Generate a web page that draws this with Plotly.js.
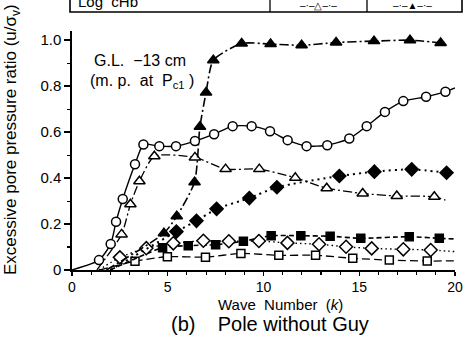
<!DOCTYPE html>
<html>
<head>
<meta charset="utf-8">
<script src="https://cdn.plot.ly/plotly-3.0.1.min.js"></script>
<style>html,body{margin:0;padding:0;background:#fff;}#chart{width:466px;height:337px;}</style>
</head>
<body>
<div id="chart"></div>
<script>
// Wave number (k) and excessive pore pressure ratio (u/σv) per series
// (first / last entries of some arrays are unmarked line ends)
const kCircle = [0, 1.41, 2.02, 2.3, 2.65, 3.29, 3.73, 4.56, 5.43, 6.42, 7.42, 8.39, 9.38, 10.34, 11.26, 12.25, 13.33, 14.48, 15.39, 16.34, 17.3, 18.49, 19.5, 20.1];
const vCircle = [0, 0.043, 0.113, 0.21, 0.309, 0.46, 0.546, 0.539, 0.539, 0.561, 0.591, 0.626, 0.626, 0.604, 0.565, 0.539, 0.543, 0.572, 0.626, 0.688, 0.735, 0.754, 0.776, 0.795];

const kOpenTri = [1.3, 2.59, 3.05, 3.52, 4.3, 6.42, 8.02, 9.78, 11.66, 13.3, 15.18, 16.96, 18.92, 19.5];
const vOpenTri = [0, 0.155, 0.286, 0.386, 0.495, 0.49, 0.439, 0.439, 0.401, 0.356, 0.333, 0.322, 0.319, 0.304];

const kFillTri = [1.8, 4.8, 5.47, 6.4, 6.68, 7.0, 7.38, 8.86, 10.37, 11.99, 13.79, 15.77, 17.65, 19.25];
const vFillTri = [0, 0.16, 0.234, 0.382, 0.623, 0.772, 0.913, 0.986, 0.983, 0.978, 0.99, 0.996, 1.0, 0.988];

const kFillDia = [2.0, 5.45, 6.5, 7.55, 9.26, 10.7, 13.96, 15.79, 17.74, 19.56];
const vFillDia = [0, 0.167, 0.214, 0.266, 0.313, 0.36, 0.409, 0.428, 0.438, 0.423];

const kOpenDia = [1.4, 2.5, 3.88, 5.29, 6.86, 8.19, 9.76, 11.25, 12.9, 14.31, 15.65, 17.3, 18.73, 20.0];
const vOpenDia = [0, 0.055, 0.095, 0.116, 0.127, 0.125, 0.126, 0.118, 0.112, 0.101, 0.094, 0.09, 0.087, 0.08];

const kFillSq = [2.0, 4.73, 6.07, 7.5, 8.95, 10.4, 11.95, 13.48, 15.08, 17.61, 19.18, 20.0];
const vFillSq = [0, 0.097, 0.106, 0.11, 0.125, 0.149, 0.149, 0.147, 0.138, 0.145, 0.138, 0.135];

const kOpenSq = [1.45, 3.29, 4.98, 6.97, 8.82, 10.8, 12.72, 14.66, 16.57, 18.55, 20.0];
const vOpenSq = [0, 0.038, 0.058, 0.056, 0.072, 0.064, 0.064, 0.051, 0.043, 0.039, 0.04];

const xTickVals = [0, 5, 10, 15, 20];
const xTickText = ['0', '5', '10', '15', '20'];
const yTickVals = [0, 0.2, 0.4, 0.6, 0.8, 1.0];
const yTickText = ['0', '0.2', '0.4', '0.6', '0.8', '1.0'];

function sizes(n, size, startBare, endBare) {
  return Array.from({length: n}, (_, i) => ((startBare && i === 0) || (endBare && i === n - 1)) ? 0 : size);
}
function series(x, y, dash, width, symbol, filled, size, startBare, endBare) {
  return {
    x: x, y: y, type: 'scatter', mode: 'lines+markers', cliponaxis: false,
    line: {color: '#000', width: width, dash: dash, shape: 'spline', smoothing: 0.6},
    marker: {symbol: symbol, size: sizes(x.length, size, startBare, endBare), opacity: 1,
      color: filled ? '#000' : '#fff', line: {color: '#000', width: 1.5}},
    showlegend: false, hoverinfo: 'skip'
  };
}

const traces = [
  series(kOpenSq, vOpenSq, '8px,4px', 1.3, 'square', false, 8, true, true),
  series(kFillSq, vFillSq, '5px,3px', 1.6, 'square', true, 8, true, true),
  series(kOpenDia, vOpenDia, '1.5px,3px', 1.4, 'diamond', false, 10, true, true),
  series(kFillDia, vFillDia, '2px,4px', 2, 'diamond', true, 10, true, false),
  series(kOpenTri, vOpenTri, '9px,3px,2px,3px', 1.3, 'triangle-up', false, 10, true, true),
  series(kFillTri, vFillTri, '9px,3px,2px,3px', 1.6, 'triangle-up', true, 10, true, false),
  series(kCircle, vCircle, 'solid', 1.4, 'circle', false, 9, true, true)
];

const F = 'Liberation Sans, Arial, sans-serif';
const px = (p) => (p - 72) / 383;
const py = (p) => (270 - p) / 239;

const layout = {
  width: 466, height: 337,
  margin: {l: 72, r: 11, t: 31, b: 67},
  paper_bgcolor: '#fff', plot_bgcolor: '#fff',
  font: {family: F, size: 13, color: '#000'},
  xaxis: {
    range: [0, 20], showgrid: false, zeroline: false, showline: true, linecolor: '#000', linewidth: 1.6,
    tickmode: 'array', tickvals: xTickVals, ticktext: xTickText,
    ticks: 'outside', ticklen: 4, tickwidth: 1.4, tickcolor: '#000',
    tickfont: {family: F, size: 14},
    minor: {tickmode: 'linear', tick0: 0, dtick: 1, ticks: 'outside', ticklen: 3, tickwidth: 1.1, tickcolor: '#000', showgrid: false}
  },
  yaxis: {
    range: [0, 1.04], showgrid: false, zeroline: false, showline: true, linecolor: '#000', linewidth: 1.6,
    tickmode: 'array', tickvals: yTickVals, ticktext: yTickText,
    ticks: 'outside', ticklen: 6, tickwidth: 1.4, tickcolor: '#000',
    tickfont: {family: F, size: 15},
    minor: {tickmode: 'linear', tick0: 0, dtick: 0.1, ticks: 'outside', ticklen: 3, tickwidth: 1.1, tickcolor: '#000', showgrid: false}
  },
  shapes: [
    {type: 'rect', xref: 'paper', yref: 'paper', x0: px(70), x1: px(462), y0: py(12), y1: py(-6), line: {color: '#000', width: 1.6}},
    {type: 'line', xref: 'paper', yref: 'paper', x0: px(270), x1: px(270), y0: py(12), y1: py(-6), line: {color: '#000', width: 1.3}},
    {type: 'line', xref: 'paper', yref: 'paper', x0: px(367), x1: px(367), y0: py(12), y1: py(-6), line: {color: '#000', width: 1.3}}
  ],
  annotations: [
    {xref: 'paper', yref: 'paper', x: px(76), y: py(1), xanchor: 'left', yanchor: 'middle', showarrow: false,
      text: 'Log  cHb', font: {family: F, size: 15}},
    {xref: 'paper', yref: 'paper', x: px(318), y: py(5.5), xanchor: 'center', yanchor: 'middle', showarrow: false,
      text: '–·–△–·–', font: {family: F, size: 10}},
    {xref: 'paper', yref: 'paper', x: px(412), y: py(5.5), xanchor: 'center', yanchor: 'middle', showarrow: false,
      text: '–·–▲–·–', font: {family: F, size: 10}},
    {xref: 'paper', yref: 'paper', x: px(92), y: py(60), xanchor: 'left', yanchor: 'middle', showarrow: false,
      text: 'G.L.  −13 cm', font: {family: F, size: 16}},
    {xref: 'paper', yref: 'paper', x: px(88), y: py(81), xanchor: 'left', yanchor: 'middle', showarrow: false,
      text: '(m. p.  at  P<sub>c1</sub> )', font: {family: F, size: 16}},
    {xref: 'paper', yref: 'paper', x: px(12), y: py(140), xanchor: 'center', yanchor: 'middle', showarrow: false,
      textangle: -90, text: 'Excessive pore pressure ratio (u/σ<sub>v</sub>)', font: {family: F, size: 17}},
    {xref: 'paper', yref: 'paper', x: px(280), y: py(304), xanchor: 'center', yanchor: 'middle', showarrow: false,
      text: 'Wave  Number  (<i>k</i>)', font: {family: F, size: 15}},
    {xref: 'paper', yref: 'paper', x: px(270), y: py(324), xanchor: 'center', yanchor: 'middle', showarrow: false,
      text: '(b)    Pole without Guy', font: {family: F, size: 20}}
  ]
};

Plotly.newPlot('chart', traces, layout, {displayModeBar: false, staticPlot: true});
</script>
</body>
</html>
